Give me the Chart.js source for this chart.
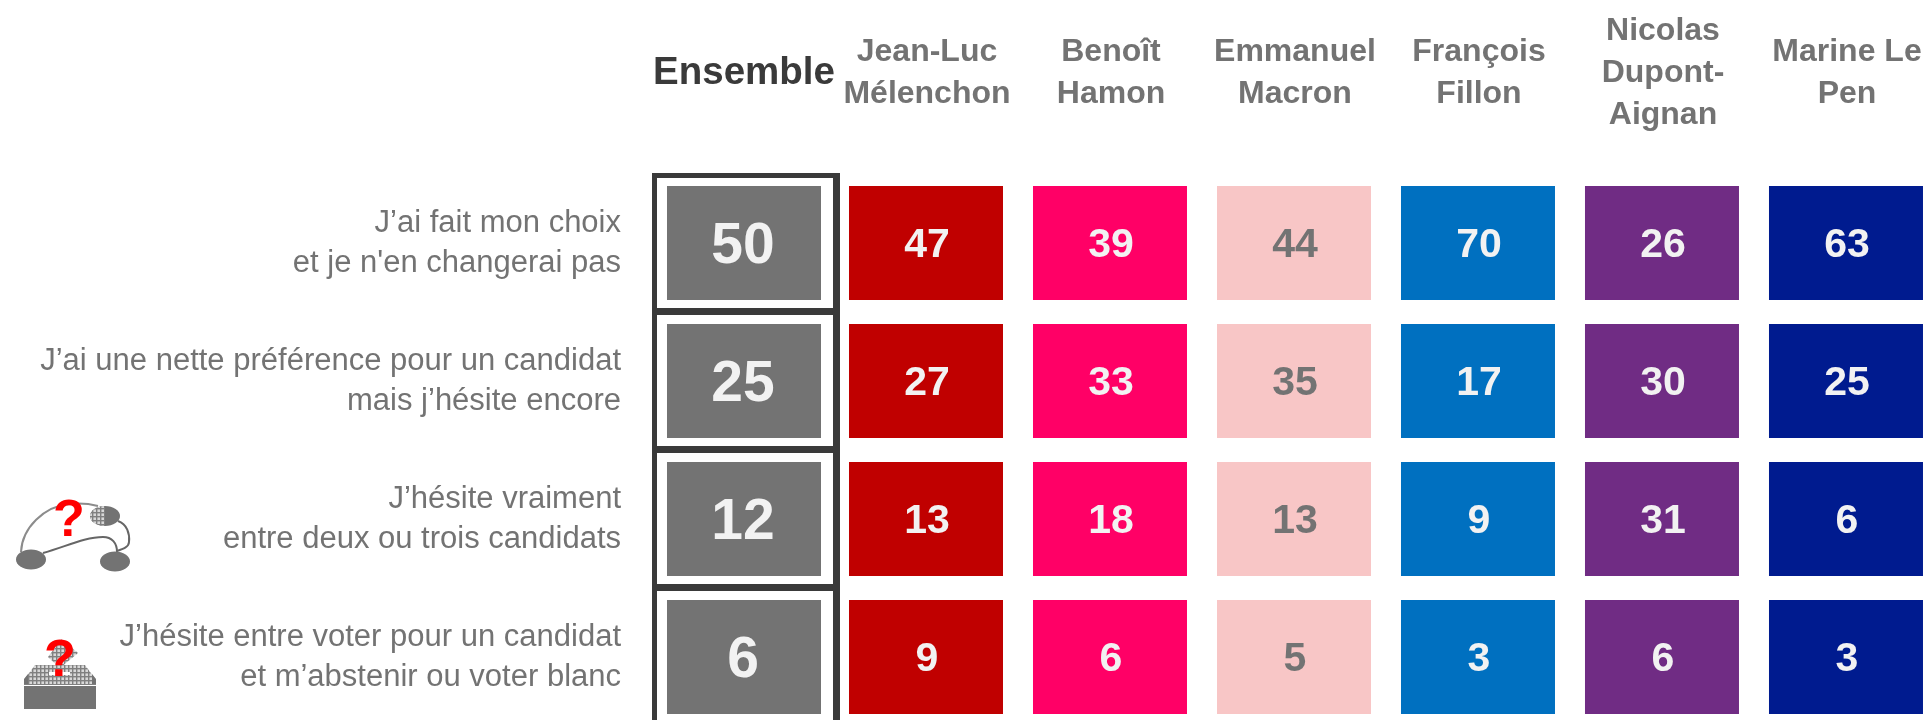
<!DOCTYPE html>
<html lang="fr">
<head>
<meta charset="utf-8">
<title>Certitude du choix</title>
<style>
    html, body { margin: 0; padding: 0; background: #fff; overflow: hidden; }
    canvas { display: block; }
</style>
<script src="https://cdn.jsdelivr.net/npm/chart.js@4"></script>
</head>
<body>
<canvas id="grid" width="1924" height="720"></canvas>
<script>
// Data
const columnNames = [
    ['Ensemble'],
    ['Jean-Luc', 'Mélenchon'],
    ['Benoît', 'Hamon'],
    ['Emmanuel', 'Macron'],
    ['François', 'Fillon'],
    ['Nicolas', 'Dupont-', 'Aignan'],
    ['Marine Le', 'Pen']
];
const rowNames = [
    ['J’ai fait mon choix', 'et je n\'en changerai pas'],
    ['J’ai une nette préférence pour un candidat', 'mais j’hésite encore'],
    ['J’hésite vraiment', 'entre deux ou trois candidats'],
    ['J’hésite entre voter pour un candidat', 'et m’abstenir ou voter blanc']
];
const ensemble = [50, 25, 12, 6];
const melenchon = [47, 27, 13, 9];
const hamon = [39, 33, 18, 6];
const macron = [44, 35, 13, 5];
const fillon = [70, 17, 9, 3];
const dupontAignan = [26, 30, 31, 6];
const lePen = [63, 25, 6, 3];
const columnValues = [ensemble, melenchon, hamon, macron, fillon, dupontAignan, lePen];
const columnColors = ['#737373', '#c00000', '#ff0066', '#f8c6c6', '#0070c0', '#702c84', '#001b8f'];
const textColors = ['#f2f2f2', '#f2f2f2', '#f2f2f2', '#737373', '#f2f2f2', '#f2f2f2', '#f2f2f2'];

const GREY = '#737373';
const DARK = '#3a3a3a';
const CELL_HALF = 57 / 138;
const ensembleNudge = 2 / 184;
const frameNudge = 4 / 184;

// One dataset per column, each cell is a floating bar around its row
const datasets = columnValues.map((values, col) => ({
    label: columnNames[col].join(' '),
    data: values.map((v, row) => ({
        x: col === 0 ? ensembleNudge : col,
        y: [row - CELL_HALF, row + CELL_HALF],
        value: v
    })),
    backgroundColor: columnColors[col],
    borderWidth: 0,
    inflateAmount: 0,
    barThickness: 154,
    grouped: false
}));

// Frame around the Ensemble column
datasets.push({
    label: 'cadre',
    data: ensemble.map((v, row) => ({ x: frameNudge, y: [row - 0.507, row + 0.522] })),
    backgroundColor: 'rgba(0,0,0,0)',
    borderColor: DARK,
    borderWidth: ctx => ({ top: ctx.dataIndex === 0 ? 5 : 0, right: 7, bottom: 7, left: 5 }),
    borderSkipped: false,
    inflateAmount: 0,
    barThickness: 188,
    grouped: false
});

// Column headers, centred on their column
const headerPlugin = {
    id: 'headers',
    afterDraw(chart) {
        const ctx = chart.ctx;
        const xScale = chart.scales.x;
        ctx.save();
        ctx.textAlign = 'center';
        ctx.textBaseline = 'alphabetic';
        columnNames.forEach((lines, col) => {
            const x = xScale.getPixelForValue(col) + 1;
            if (col === 0) {
                ctx.font = 'bold 38.5px "Liberation Sans"';
                ctx.fillStyle = DARK;
                ctx.fillText(lines[0], x + 1, 84);
                return;
            }
            ctx.font = 'bold 32px "Liberation Sans"';
            ctx.fillStyle = GREY;
            lines.forEach((line, i) => {
                ctx.fillText(line, x, 82 - (lines.length - 1) * 21 + i * 42);
            });
        });
        ctx.restore();
    }
};

// Values written in the middle of each cell
const valuePlugin = {
    id: 'values',
    afterDatasetsDraw(chart) {
        const ctx = chart.ctx;
        ctx.save();
        ctx.textAlign = 'center';
        ctx.textBaseline = 'alphabetic';
        columnValues.forEach((values, col) => {
            const bars = chart.getDatasetMeta(col).data;
            const size = col === 0 ? 57 : 41;
            ctx.font = 'bold ' + size + 'px "Liberation Sans"';
            ctx.fillStyle = textColors[col];
            values.forEach((v, row) => {
                const mid = (bars[row].y + bars[row].base) / 2;
                ctx.fillText(String(v), bars[row].x + (col === 0 ? -1 : 1), mid + size * 0.36 - 1);
            });
        });
        ctx.restore();
    }
};

function ditherPattern(ctx) {
    const tile = document.createElement('canvas');
    tile.width = 4;
    tile.height = 4;
    const t = tile.getContext('2d');
    t.fillStyle = '#d8d8d8';
    t.fillRect(0, 0, 4, 4);
    t.fillStyle = '#808080';
    t.fillRect(0, 0, 4, 1.4);
    t.fillRect(0, 0, 1.4, 4);
    return ctx.createPattern(tile, 'repeat');
}

// The two small pictures left of the last rows
const iconPlugin = {
    id: 'icons',
    afterDraw(chart) {
        const ctx = chart.ctx;
        const dither = ditherPattern(ctx);
        ctx.save();

        // Three linked ovals
        ctx.lineWidth = 2;
        ctx.strokeStyle = '#8c8c8c';
        ctx.beginPath();
        ctx.moveTo(21, 552);
        ctx.bezierCurveTo(22, 528, 44, 506, 70, 504);
        ctx.bezierCurveTo(80, 503, 90, 504, 98, 506);
        ctx.stroke();
        ctx.strokeStyle = '#666';
        ctx.beginPath();
        ctx.moveTo(43, 553);
        ctx.bezierCurveTo(65, 547, 85, 537, 103, 537);
        ctx.bezierCurveTo(112, 537, 117, 543, 117, 552);
        ctx.stroke();
        ctx.beginPath();
        ctx.moveTo(118, 521);
        ctx.bezierCurveTo(127, 524, 130, 534, 129, 542);
        ctx.bezierCurveTo(129, 547, 123, 549, 117, 551);
        ctx.stroke();

        ctx.fillStyle = GREY;
        ctx.beginPath();
        ctx.ellipse(31, 559.5, 15, 10, 0, 0, Math.PI * 2);
        ctx.fill();
        ctx.beginPath();
        ctx.ellipse(115, 561.5, 15, 10, 0, 0, Math.PI * 2);
        ctx.fill();
        ctx.beginPath();
        ctx.ellipse(105, 516, 15, 10, 0, 0, Math.PI * 2);
        ctx.fill();
        ctx.fillStyle = dither;
        ctx.beginPath();
        ctx.ellipse(105, 516, 15, 10, 0, Math.PI / 2, Math.PI * 1.5);
        ctx.fill();

        // Ballot box
        ctx.fillStyle = dither;
        ctx.beginPath();
        ctx.moveTo(61.5, 639);
        ctx.lineTo(78, 653);
        ctx.lineTo(60, 668);
        ctx.lineTo(48, 657);
        ctx.closePath();
        ctx.fill();
        ctx.beginPath();
        ctx.moveTo(24, 680);
        ctx.lineTo(35, 665);
        ctx.lineTo(85, 665);
        ctx.lineTo(96, 680);
        ctx.lineTo(96, 685);
        ctx.lineTo(24, 685);
        ctx.closePath();
        ctx.fill();
        ctx.fillStyle = GREY;
        ctx.beginPath();
        ctx.moveTo(24, 679);
        ctx.lineTo(28, 674);
        ctx.lineTo(28, 684);
        ctx.lineTo(24, 684);
        ctx.closePath();
        ctx.moveTo(96, 679);
        ctx.lineTo(92, 674);
        ctx.lineTo(92, 684);
        ctx.lineTo(96, 684);
        ctx.closePath();
        ctx.fill();
        ctx.fillRect(24, 686, 72, 23);
        ctx.fillStyle = '#fff';
        ctx.fillRect(49, 672, 21, 3);

        // Question marks
        ctx.font = 'bold 52px "Liberation Sans"';
        ctx.fillStyle = '#ff0000';
        ctx.textAlign = 'center';
        ctx.textBaseline = 'alphabetic';
        ctx.fillText('?', 69, 536);
        ctx.fillText('?', 60, 676);
        ctx.restore();
    }
};

new Chart(document.getElementById('grid'), {
    type: 'bar',
    data: { datasets: datasets },
    plugins: [headerPlugin, valuePlugin, iconPlugin],
    options: {
        responsive: false,
        animation: false,
        events: [],
        layout: { padding: 0 },
        plugins: {
            legend: { display: false },
            tooltip: { enabled: false }
        },
        scales: {
            x: {
                type: 'linear',
                position: 'top',
                offset: false,
                min: -0.5,
                max: 6.424,
                grid: { display: false },
                border: { display: false },
                ticks: { display: false, stepSize: 1 },
                afterFit: scale => { scale.height = 105; }
            },
            y: {
                type: 'linear',
                reverse: true,
                min: -1,
                max: 3.4565,
                grid: { display: false, drawTicks: false },
                border: { display: false },
                afterFit: scale => {
                    scale.width = 650;
                    scale.paddingTop = 0;
                    scale.paddingBottom = 0;
                },
                ticks: {
                    stepSize: 1,
                    includeBounds: false,
                    autoSkip: false,
                    padding: 29,
                    color: GREY,
                    font: { family: '"Liberation Sans"', size: 31, lineHeight: '40px' },
                    callback: value => rowNames[value] || ''
                }
            }
        }
    }
});
</script>
</body>
</html>
